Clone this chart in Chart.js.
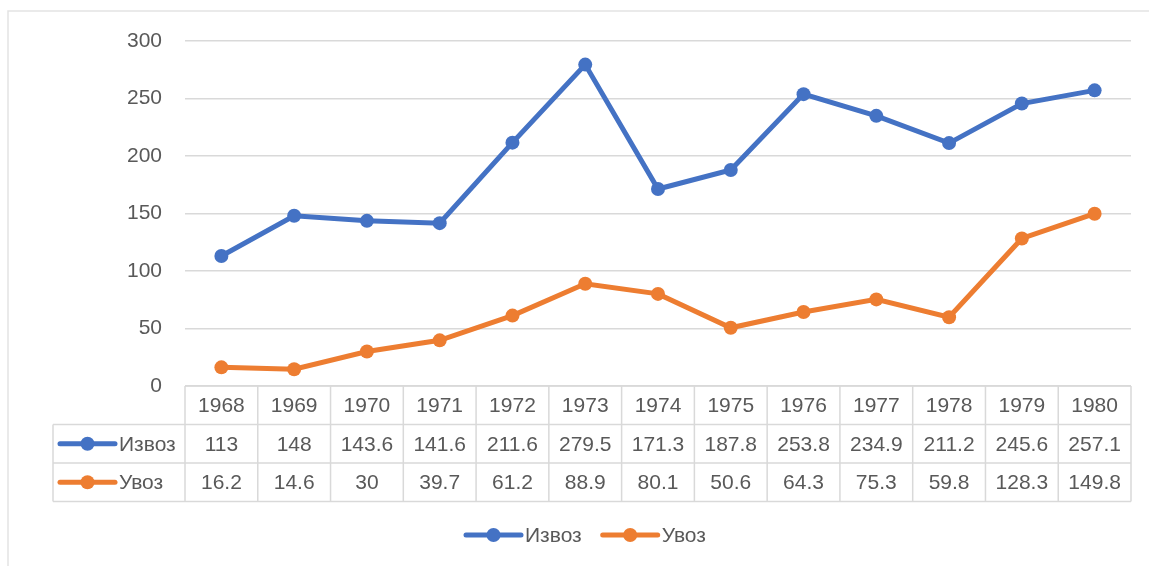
<!DOCTYPE html>
<html lang="ru">
<head>
<meta charset="UTF-8">
<title>Извоз и увоз</title>
<style>
  body { margin: 0; background: #fff; }
  #wrap { width: 1149px; height: 566px; position: relative; }
</style>
</head>
<body>
<div id="wrap"><canvas id="grafik" width="1149" height="566"></canvas></div>
<script src="https://cdn.jsdelivr.net/npm/chart.js"></script>
<script>
const godine = ['1968','1969','1970','1971','1972','1973','1974','1975','1976','1977','1978','1979','1980']
const izvoz = [113, 148, 143.6, 141.6, 211.6, 279.5, 171.3, 187.8, 253.8, 234.9, 211.2, 245.6, 257.1]
const uvoz = [16.2, 14.6, 30, 39.7, 61.2, 88.9, 80.1, 50.6, 64.3, 75.3, 59.8, 128.3, 149.8]
const yTicks = [0, 50, 100, 150, 200, 250, 300]

const siva = '#595959'
const linija = '#d9d9d9'
const font = '"Liberation Sans", Arial, sans-serif'

// tabela ispod grafikona + legenda, crta se posle grafikona
const tabela = {
  id: 'tabela',
  afterDraw(chart) {
    const c = chart.ctx
    const a = chart.chartArea
    const x = chart.scales.x
    const sirina = (a.right - a.left) / godine.length
    const red = 38.5
    const levo = 53
    const y0 = a.bottom
    c.save()
    c.strokeStyle = linija
    c.lineWidth = 1.5
    // horizontalne linije
    c.beginPath()
    c.moveTo(a.left, y0); c.lineTo(a.right, y0)
    for (let r = 1; r <= 3; r++) {
      c.moveTo(levo, y0 + r * red); c.lineTo(a.right, y0 + r * red)
    }
    // vertikalne linije
    c.moveTo(levo, y0 + red); c.lineTo(levo, y0 + 3 * red)
    for (let i = 0; i <= godine.length; i++) {
      const xx = a.left + i * sirina
      c.moveTo(xx, y0); c.lineTo(xx, y0 + 3 * red)
    }
    c.stroke()

    c.fillStyle = siva
    c.font = '21px ' + font
    c.textAlign = 'center'
    c.textBaseline = 'middle'
    const redovi = [godine, chart.data.datasets[0].data, chart.data.datasets[1].data]
    redovi.forEach((vr, r) => {
      vr.forEach((v, i) => {
        c.fillText(String(v), x.getPixelForValue(i), y0 + r * red + red / 2 + 1)
      })
    })

    const marker = (x1, yy, boja) => {
      c.strokeStyle = boja
      c.lineWidth = 5
      c.lineCap = 'round'
      c.beginPath(); c.moveTo(x1, yy); c.lineTo(x1 + 55, yy); c.stroke()
      c.fillStyle = boja
      c.beginPath(); c.arc(x1 + 27.5, yy, 7, 0, Math.PI * 2); c.fill()
    }
    chart.data.datasets.forEach((ds, k) => {
      const yy = y0 + (k + 1) * red + red / 2
      marker(60, yy, ds.borderColor)
      c.fillStyle = siva
      c.textAlign = 'left'
      c.fillText(ds.label, 119, yy + 1)
    })

    // legenda dole
    const ly = 535
    let lx = 466
    chart.data.datasets.forEach(ds => {
      marker(lx, ly, ds.borderColor)
      c.fillStyle = siva
      c.textAlign = 'left'
      c.fillText(ds.label, lx + 59, ly + 1)
      lx += c.measureText(ds.label).width + 59 + 21
    })

    // okvir
    c.strokeStyle = '#e3e3e3'
    c.lineWidth = 1.5
    c.beginPath()
    c.moveTo(8, 566); c.lineTo(8, 11); c.lineTo(1149, 11)
    c.stroke()
    c.restore()
  }
}

new Chart(document.getElementById('grafik'), {
  type: 'line',
  data: {
    labels: godine,
    datasets: [
      { label: 'Извоз', data: izvoz, borderColor: '#4472C4', backgroundColor: '#4472C4' },
      { label: 'Увоз', data: uvoz, borderColor: '#ED7D31', backgroundColor: '#ED7D31' }
    ]
  },
  options: {
    responsive: false,
    animation: false,
    devicePixelRatio: 1,
    layout: { padding: { top: 41, right: 18, bottom: 180, left: 0 } },
    elements: {
      line: { borderWidth: 5, tension: 0 },
      point: { radius: 7, hoverRadius: 7, borderWidth: 0 }
    },
    plugins: { legend: { display: false }, tooltip: { enabled: false } },
    scales: {
      x: { display: false, offset: true },
      y: {
        min: 0, max: 300,
        afterFit(s) { s.width = 185 },
        afterBuildTicks(s) { s.ticks = yTicks.map(v => ({ value: v })) },
        grid: { color: linija, lineWidth: 1.5, drawTicks: false },
        border: { display: false },
        ticks: { color: siva, font: { family: font, size: 21 }, padding: 23 }
      }
    }
  },
  plugins: [tabela]
})
</script>
</body>
</html>
